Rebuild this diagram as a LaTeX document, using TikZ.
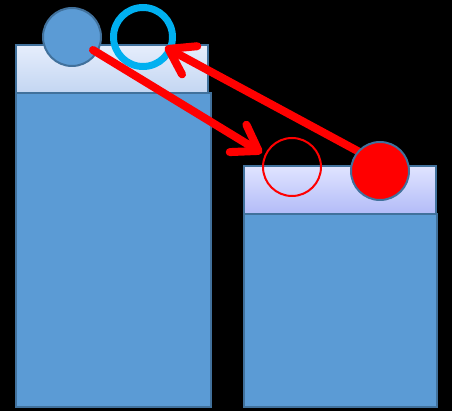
\documentclass[tikz,border=0pt]{standalone}
\usetikzlibrary{arrows.meta}
\definecolor{bodyblue}{HTML}{5B9BD5}
\definecolor{edgeblue}{HTML}{41719C}
\definecolor{hdtopL}{HTML}{E6EEFC}
\definecolor{hdbotL}{HTML}{C3D6F2}
\definecolor{hdtopR}{HTML}{E0E4FF}
\definecolor{hdbotR}{HTML}{B2BBF8}
\definecolor{ringcyan}{HTML}{00B0F0}
\definecolor{arrred}{HTML}{FF0000}
\begin{document}
\begin{tikzpicture}[x=1pt,y=-1pt,
  box/.style={draw=edgeblue,line width=2pt,fill=bodyblue},
  ball/.style={circle,minimum size=58pt,inner sep=0pt,line width=2pt},
  bigarrow/.style={draw=arrred,line width=8pt,line cap=round,line join=round,
    -{Straight Barb[length=24pt,width=32pt,line cap=round,line join=round]}}]
\fill[black] (0,0) rectangle (452,411);
\useasboundingbox (0,0) rectangle (452,411);
% left tower
\draw[box] (16,93) rectangle (211,407);
\draw[draw=edgeblue,line width=2pt,top color=hdtopL,bottom color=hdbotL] (16,45) rectangle (208,93);
% right tower
\draw[box] (244,214) rectangle (437,407);
\draw[draw=edgeblue,line width=2pt,top color=hdtopR,bottom color=hdbotR] (244,166) rectangle (436,214);
% circles
\node[ball,draw=edgeblue,fill=bodyblue] (blue) at (72,37) {};
\node[ball,draw=ringcyan,line width=7pt,minimum size=59pt] (ring) at (143,37) {};
\node[ball,draw=arrred,minimum size=58pt] (target) at (292,167) {};
% arrows
\coordinate (s1) at (93,50);
\coordinate (t1) at (262,153);
\coordinate (s2) at (378,162);
\coordinate (t2) at (165,47);
\draw[bigarrow] (s1) -- (t1);
\draw[bigarrow] (s2) -- (t2);
\node[ball,draw=edgeblue,fill=arrred] (red) at (380,171) {};
\end{tikzpicture}
\end{document}
